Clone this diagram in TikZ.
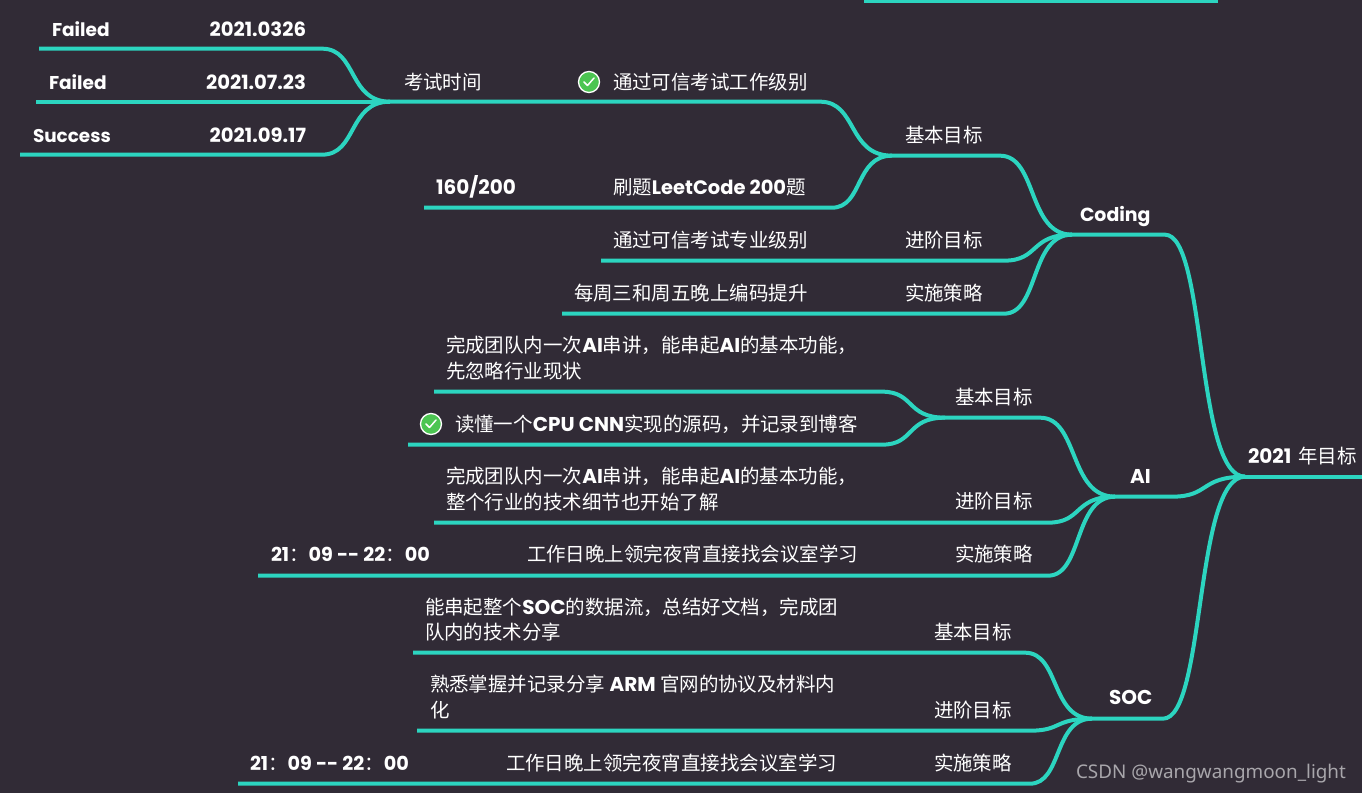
\documentclass[tikz,border=0pt]{standalone}
\usepackage{fontspec}
\usetikzlibrary{calc}
\setmainfont{Noto Sans CJK SC}
\newfontfamily\latinface{Poppins}
\newfontfamily\markface{Noto Sans}
\newcommand{\ltn}[2][15]{{\latinface\bfseries\fontsize{#1}{19.5}\selectfont #2}}
\definecolor{bgdark}{HTML}{312B36}
\definecolor{limb}{HTML}{2CD5C0}
\definecolor{tickgreen}{HTML}{4CC552}
\definecolor{wmark}{HTML}{A8A6AB}
\tikzset{
  limbline/.style={draw=limb,line width=3pt,line cap=butt,line join=round},
  lab/.style={inner sep=0pt,outer sep=0pt,text=white,anchor=base west,font=\fontsize{14.6}{19.5}\selectfont},
  labr/.style={lab,anchor=base east},
  tickdisc/.style={circle,minimum size=15.75pt,inner sep=0pt,fill=tickgreen,draw=white,line width=1pt},
  tickline/.style={draw=white,line width=1.1pt,line cap=round,line join=round}
}
% start name, x0, bend x, y, target
\newcommand{\limb}[5]{%
  \coordinate (#1s) at (#2,#4);
  \coordinate (#1b) at (#3,#4);
  \coordinate (#1m) at ($(#1b)!.52!(#5)$);
  \coordinate (#1n) at ($(#1b)!.38!(#5)$);
  \path[limbline] (#1s) -- (#1b) .. controls (#1m |- #1b) and (#1n |- #5) .. (#5);
}
\begin{document}
\begin{tikzpicture}[x=.75pt,y=-.75pt]
\useasboundingbox (0,0) rectangle (1362,793);
\fill[bgdark] (0,0) rectangle (1362,793);
\begin{scope}[yshift=-0.5pt]
% hubs
\coordinate (root) at (1245,476);
\coordinate (rootend) at (1362,476);
\coordinate (coding) at (1072,234);
\coordinate (ai) at (1115,496);
\coordinate (soc) at (1092,718);
\coordinate (exam) at (390,101);
\coordinate (codebase) at (892,155);
\coordinate (aibase) at (945,417);
\coordinate (topa) at (864,0);
\coordinate (topb) at (1218,0);
\path[limbline] (topa) -- (topb);
\path[limbline] (root) -- (rootend);
% second level
\limb{c}{1072}{1165}{234}{root}
\limb{a}{1115}{1172}{496}{root}
\limb{s}{1092}{1163}{718}{root}
% Coding
\limb{cb}{892}{1000}{155}{coding}
\limb{ca}{601}{1004}{260}{coding}
\limb{cs}{562}{1004}{313}{coding}
\limb{ex}{390}{820}{101}{codebase}
\limb{lc}{424}{832}{207}{codebase}
\limb{f1}{39}{322}{48}{exam}
\limb{f3}{20}{322}{154}{exam}
\coordinate (f2s) at (36,101);
\path[limbline] (f2s) -- (exam);
% AI
\limb{ab}{945}{1040}{417}{ai}
\limb{aq}{434}{882}{391}{aibase}
\limb{ar}{408}{882}{444}{aibase}
\limb{aa}{434}{1048}{522}{ai}
\limb{as}{258}{1048}{575}{ai}
% SOC
\limb{sb}{413}{1025}{652}{soc}
\limb{sa}{417}{1030}{730}{soc}
\limb{si}{238}{1030}{783}{soc}
\end{scope}
% labels
\node[lab] (t01) at (52,36) {\ltn[13.9]{Failed}};
\node[labr] (t02) at (306,36) {\ltn[14.7]{2021.0326}};
\node[lab] (t03) at (49,89) {\ltn[13.9]{Failed}};
\node[labr] (t04) at (306,89) {\ltn[14.7]{2021.07.23}};
\node[lab] (t05) at (33,142) {\ltn[13.8]{Success}};
\node[labr] (t06) at (306,142) {\ltn[14.7]{2021.09.17}};
\node[lab] (t07) at (404,89) {考试时间};
\node[lab] (t08) at (613,89) {通过可信考试工作级别};
\node[lab] (t09) at (905,142) {基本目标};
\node[lab] (t10) at (436,194) {\ltn{160/200}};
\node[lab] (t11) at (613,194) {刷题\ltn[14.6]{LeetCode 200}题};
\node[lab] (t12) at (1080,221) {\ltn[14.2]{Coding}};
\node[lab] (t13) at (613,247) {通过可信考试专业级别};
\node[lab] (t14) at (905,247) {进阶目标};
\node[lab] (t15) at (574,300) {每周三和周五晚上编码提升};
\node[lab] (t16) at (905,300) {实施策略};
\node[lab] (t17) at (446,352) {完成团队内一次\ltn{AI}串讲，能串起\ltn{AI}的基本功能，};
\node[lab] (t17b) at (446,378) {先忽略行业现状};
\node[lab] (t18) at (955,404) {基本目标};
\node[lab] (t19) at (455,431) {读懂一个\ltn{CPU CNN}实现的源码，并记录到博客};
\node[lab] (t20) at (1130,483) {\ltn{AI}};
\node[lab] (t21) at (1248,463) {\ltn{2021}\hspace{2pt} 年目标};
\node[lab] (t22) at (446,483) {完成团队内一次\ltn{AI}串讲，能串起\ltn{AI}的基本功能，};
\node[lab] (t22b) at (446,509) {整个行业的技术细节也开始了解};
\node[lab] (t23) at (955,508) {进阶目标};
\node[lab] (t24) at (271,561) {\ltn[14.4]{21}：\ltn[14.4]{09 {-}{-} 22}：\ltn[14.4]{00}};
\node[lab] (t25) at (527,561) {工作日晚上领完夜宵直接找会议室学习};
\node[lab] (t26) at (955,561) {实施策略};
\node[lab] (t27) at (425,614) {能串起整个\ltn{SOC}的数据流，总结好文档，完成团};
\node[lab] (t27b) at (425,639) {队内的技术分享};
\node[lab] (t28) at (934,639) {基本目标};
\node[lab] (t29) at (1109,704) {\ltn{SOC}};
\node[lab] (t30) at (430,691) {熟悉掌握并记录分享 \ltn{ARM} 官网的协议及材料内};
\node[lab] (t30b) at (430,717) {化};
\node[lab] (t31) at (934,717) {进阶目标};
\node[lab] (t32) at (250,770) {\ltn[14.4]{21}：\ltn[14.4]{09 {-}{-} 22}：\ltn[14.4]{00}};
\node[lab] (t33) at (506,770) {工作日晚上领完夜宵直接找会议室学习};
\node[lab] (t34) at (934,770) {实施策略};
\node[lab,text=wmark,font=\markface\fontsize{14.15}{19}\selectfont] (wm) at (1076,778) {CSDN @wangwangmoon\_light};
% tick icons
\node[tickdisc] (k1) at (589,82) {};
\draw[tickline] ($(k1)+(-5,0)$) -- ($(k1)+(-1.5,3.5)$) -- ($(k1)+(5,-4)$);
\node[tickdisc] (k2) at (431,424) {};
\draw[tickline] ($(k2)+(-5,0)$) -- ($(k2)+(-1.5,3.5)$) -- ($(k2)+(5,-4)$);
\end{tikzpicture}
\end{document}
